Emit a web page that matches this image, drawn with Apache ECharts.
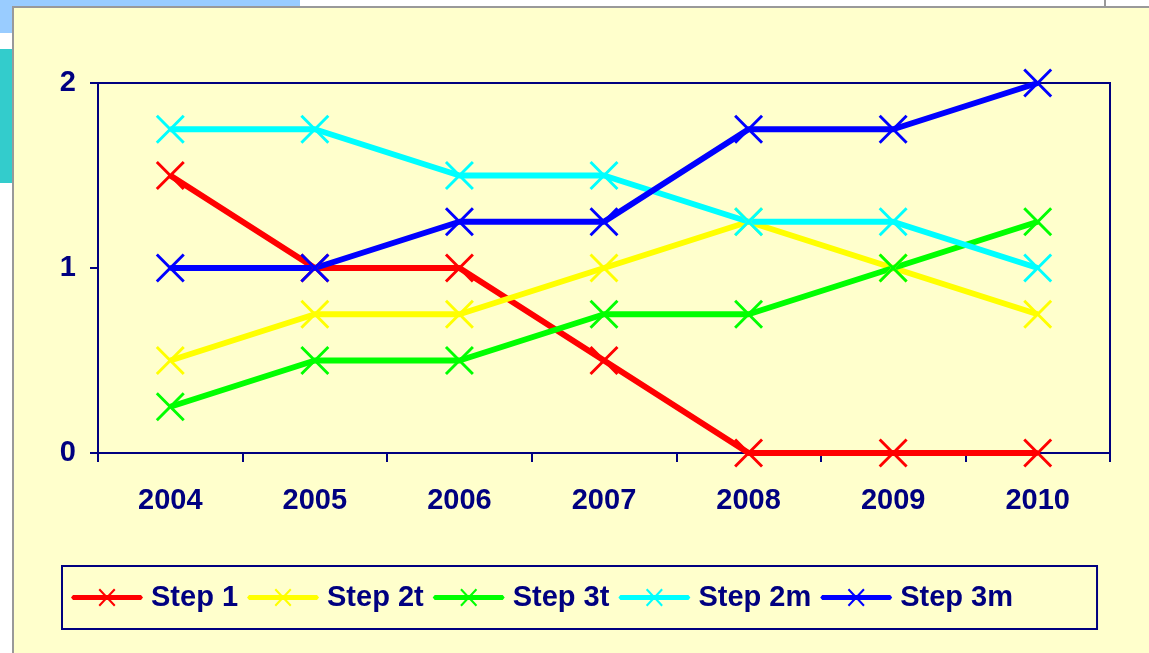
<!DOCTYPE html>
<html>
<head>
<meta charset="utf-8">
<script src="https://cdn.jsdelivr.net/npm/echarts@6/dist/echarts.min.js"></script>
<style>
  html, body { margin: 0; padding: 0; background: #ffffff; }
  #chart { width: 1149px; height: 653px; }
</style>
</head>
<body>
<div id="chart"></div>
<script>
const years = ['2004', '2005', '2006', '2007', '2008', '2009', '2010']
const step1 = [1.5, 1, 1, 0.5, 0, 0, 0]
const step2t = [0.5, 0.75, 0.75, 1, 1.25, 1, 0.75]
const step3t = [0.25, 0.5, 0.5, 0.75, 0.75, 1, 1.25]
const step2m = [1.75, 1.75, 1.5, 1.5, 1.25, 1.25, 1]
const step3m = [1, 1, 1.25, 1.25, 1.75, 1.75, 2]

const navy = '#000080'
const font = 'Liberation Sans, Arial, sans-serif'
// X-shaped marker as a filled outline
const cross = 'path://M0,2L2,0L14,12L26,0L28,2L16,14L28,26L26,28L14,16L2,28L0,26L12,14Z'
// legend icon: thick line with a small X in the middle (72 x 20 box)
const legendIcon = 'path://M2,7.5L70,7.5L72,10L70,12.5L2,12.5L0,10Z' +
  'M27.5,2.5L29,1L36,8.5L43,1L44.5,2.5L37.5,10L44.5,17.5L43,19L36,11.5L29,19L27.5,17.5L34.5,10Z'

function makeSeries (name, data, color) {
  return {
    name: name,
    type: 'line',
    data: data,
    symbol: cross,
    symbolSize: 29,
    showAllSymbol: true,
    lineStyle: { color: color, width: 6 },
    itemStyle: { color: color },
    z: 3
  }
}

const chart = echarts.init(document.getElementById('chart'))
chart.setOption({
  animation: false,
  backgroundColor: '#ffffff',
  graphic: [
    { type: 'rect', shape: { x: 0, y: 0, width: 300, height: 33 }, style: { fill: '#99ccff' }, z: -10 },
    { type: 'rect', shape: { x: 0, y: 49, width: 14, height: 134 }, style: { fill: '#33cccc' }, z: -10 },
    { type: 'rect', shape: { x: 1104, y: 0, width: 2, height: 8 }, style: { fill: '#999999' }, z: -10 },
    { type: 'rect', shape: { x: 13, y: 7, width: 1150, height: 660 }, style: { fill: '#ffffcc', stroke: '#999999', lineWidth: 2 }, z: -9 }
  ],
  grid: {
    left: 98, top: 83, right: 39, bottom: 200,
    show: true, borderColor: navy, borderWidth: 2, backgroundColor: 'transparent'
  },
  legend: {
    left: 62, top: 566,
    padding: [17, 84, 17, 9],
    borderColor: navy, borderWidth: 2,
    icon: legendIcon,
    itemWidth: 72, itemHeight: 20, itemGap: 9,
    textStyle: { color: navy, fontSize: 29, fontWeight: 'bold', fontFamily: font, padding: [0, 0, 0, 3] },
    data: ['Step 1', 'Step 2t', 'Step 3t', 'Step 2m', 'Step 3m']
  },
  xAxis: {
    type: 'category',
    data: years,
    boundaryGap: true,
    axisLine: { lineStyle: { color: navy, width: 2 } },
    axisTick: { show: true, length: 9, inside: false, lineStyle: { color: navy, width: 2 } },
    axisLabel: { color: navy, fontSize: 29, fontWeight: 'bold', margin: 33, fontFamily: font },
    splitLine: { show: false }
  },
  yAxis: {
    type: 'value',
    min: 0, max: 2, interval: 1,
    axisLine: { show: true, lineStyle: { color: navy, width: 2 } },
    axisTick: { show: true, length: 8, lineStyle: { color: navy, width: 2 } },
    axisLabel: { color: navy, fontSize: 29, fontWeight: 'bold', margin: 22, fontFamily: font },
    splitLine: { show: false }
  },
  series: [
    makeSeries('Step 1', step1, '#ff0000'),
    makeSeries('Step 2t', step2t, '#ffff00'),
    makeSeries('Step 3t', step3t, '#00ff00'),
    makeSeries('Step 2m', step2m, '#00ffff'),
    makeSeries('Step 3m', step3m, '#0000ff')
  ]
})
</script>
</body>
</html>
